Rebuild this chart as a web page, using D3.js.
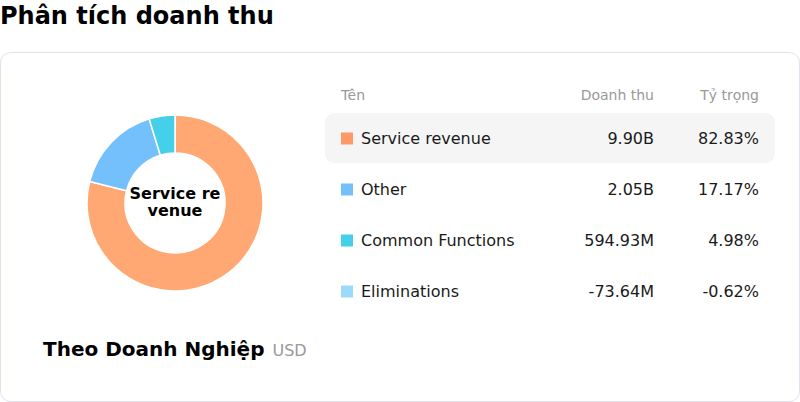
<!DOCTYPE html>
<html>
<head>
<meta charset="utf-8">
<script src="https://cdn.jsdelivr.net/npm/d3@7"></script>
<style>
  body { margin: 0; background: #fff; font-family: "DejaVu Sans", sans-serif; }
</style>
</head>
<body>
<div id="chart"></div>
<script>
// data
const names = ["Service revenue", "Other", "Common Functions", "Eliminations"];
const revenues = [9.90e9, 2.05e9, 594.93e6, -73.64e6];
const revenueLabels = ["9.90B", "2.05B", "594.93M", "-73.64M"];
const shareLabels = ["82.83%", "17.17%", "4.98%", "-0.62%"];
const swatchColors = ["#FF9966", "#74C0FC", "#43D0E8", "#99DBF9"];
const sliceColors = ["#FFA874", "#74C0FC", "#43D0E8", "#99DBF9"];

const width = 800, height = 402;

const svg = d3.select("#chart").append("svg")
    .attr("width", width)
    .attr("height", height);

// page title
svg.append("text")
    .attr("x", 0).attr("y", 24)
    .attr("font-size", 24).attr("font-weight", "bold")
    .attr("fill", "#000")
    .text("Phân tích doanh thu");

// card
svg.append("rect")
    .attr("x", 0.5).attr("y", 52.5)
    .attr("width", 799).attr("height", 349)
    .attr("rx", 10)
    .attr("fill", "#fff")
    .attr("stroke", "#E2E0EE");

// donut (negative values left out)
let rows = names.map((n, i) => ({name: n, value: revenues[i], color: sliceColors[i]}));

const pie = d3.pie().sort(null).value(d => Math.max(0, d.value));
const arc = d3.arc().innerRadius(50).outerRadius(88);

const donut = svg.append("g")
    .attr("transform", "translate(175,203)");

donut.selectAll("path")
    .data(pie(rows.filter(d => d.value > 0)))
    .enter().append("path")
    .attr("d", arc)
    .attr("fill", d => d.data.color)
    .attr("stroke", "#fff")
    .attr("stroke-width", 1.5);

const centerLines = ["Service re", "venue"];
donut.selectAll("text.center")
    .data(centerLines)
    .enter().append("text")
    .attr("class", "center")
    .attr("text-anchor", "middle")
    .attr("y", (d, i) => -4 + i * 17)
    .attr("font-size", 16).attr("font-weight", "bold")
    .attr("fill", "#000")
    .text(d => d);

// bottom caption
const caption = svg.append("text")
    .attr("x", 43).attr("y", 356);
caption.append("tspan")
    .attr("font-size", 20).attr("font-weight", "bold").attr("fill", "#000")
    .text("Theo Doanh Nghiệp");
caption.append("tspan")
    .attr("dx", 8)
    .attr("font-size", 16).attr("fill", "#999")
    .text("USD");

// table
const colName = 341, colRev = 654, colShare = 759;
const y = d3.scaleBand()
    .domain(names)
    .range([113, 317])
    .paddingInner(0);

const header = svg.append("g").attr("font-size", 14).attr("fill", "#999");
header.append("text").attr("x", colName).attr("y", 100).text("Tên");
header.append("text").attr("x", colRev).attr("y", 100).attr("text-anchor", "end").text("Doanh thu");
header.append("text").attr("x", colShare).attr("y", 100).attr("text-anchor", "end").text("Tỷ trọng");

// highlighted first row
svg.append("rect")
    .attr("x", 325).attr("y", y(names[0]))
    .attr("width", 450).attr("height", y.bandwidth() - 1)
    .attr("rx", 9)
    .attr("fill", "#F5F5F5");

const row = svg.selectAll("g.row")
    .data(names)
    .enter().append("g")
    .attr("class", "row")
    .attr("transform", d => `translate(0,${y(d) + y.bandwidth() / 2})`);

row.append("rect")
    .attr("x", colName).attr("y", -6)
    .attr("width", 12).attr("height", 12)
    .attr("fill", (d, i) => swatchColors[i]);

row.append("text")
    .attr("x", colName + 20).attr("y", 5.5)
    .attr("font-size", 16).attr("fill", "#1a1a1a")
    .text(d => d);

row.append("text")
    .attr("x", colRev).attr("y", 5.5)
    .attr("text-anchor", "end")
    .attr("font-size", 16).attr("fill", "#1a1a1a")
    .text((d, i) => revenueLabels[i]);

row.append("text")
    .attr("x", colShare).attr("y", 5.5)
    .attr("text-anchor", "end")
    .attr("font-size", 16).attr("fill", "#1a1a1a")
    .text((d, i) => shareLabels[i]);
</script>
</body>
</html>
